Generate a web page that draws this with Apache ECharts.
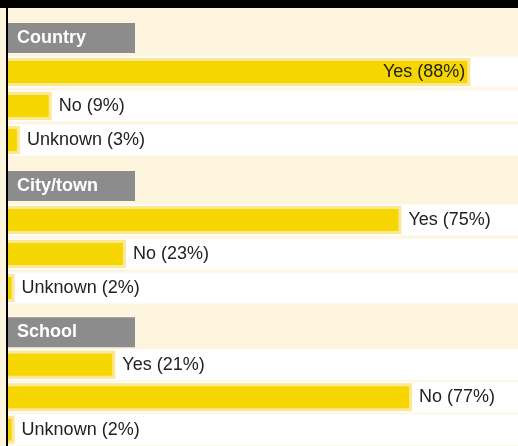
<!DOCTYPE html>
<html>
<head>
<meta charset="utf-8">
<script src="https://cdn.jsdelivr.net/npm/echarts@6/dist/echarts.min.js"></script>
<style>html,body{margin:0;padding:0;background:#fef5de;}#chart{width:518px;height:446px;}</style>
</head>
<body>
<div id="chart"></div>
<script>
const sections = ['Country', 'City/town', 'School'];
const answers = ['Yes', 'No', 'Unknown'];
const countryValues = [88, 9, 3];
const cityValues = [75, 23, 2];
const schoolValues = [21, 77, 2];
const sectionValues = [countryValues, cityValues, schoolValues];

const gridTops = [21, 169, 316];
const chart = echarts.init(document.getElementById('chart'));
const font = "'Liberation Sans', Arial, Helvetica, sans-serif";

const option = {
  backgroundColor: '#fef5de',
  animation: false,
  grid: sections.map((s, i) => ({ left: 4, right: 0, top: gridTops[i], height: 136 })),
  xAxis: sections.map((s, i) => ({ type: 'value', gridIndex: i, min: 0, max: 97, show: false })),
  yAxis: sections.map((s, i) => ({
    type: 'category', gridIndex: i, inverse: true, z: 5,
    data: [s].concat(answers),
    axisLine: { show: false }, axisTick: { show: false }, splitLine: { show: false },
    axisLabel: {
      inside: true, margin: 4, interval: 0,
      formatter: (v, idx) => idx === 0 ? '{h|' + v + '}' : '',
      rich: {
        h: {
          color: '#ffffff', fontWeight: 'bold', fontSize: 18, fontFamily: font,
          backgroundColor: '#8c8c8c', width: 118, height: 18, lineHeight: 18,
          padding: [6, 0, 6, 9], align: 'left'
        }
      }
    }
  })),
  series: sections.map((s, i) => ({
    type: 'bar', xAxisIndex: i, yAxisIndex: i, barWidth: 28,
    encode: { x: 0, y: 1 },
    showBackground: true,
    backgroundStyle: { color: '#ffffff', borderColor: '#ffffff', borderWidth: 3 },
    itemStyle: { color: '#f5d600', borderColor: '#fce894', borderWidth: 3 },
    label: {
      show: true, fontSize: 18, fontFamily: font, color: '#222222',
      formatter: p => answers[p.dataIndex] + ' (' + p.value[0] + '%)'
    },
    data: sectionValues[i].map((v, j) => ({
      value: [v, answers[j]],
      label: { position: v > 80 ? 'insideRight' : 'right', distance: v > 80 ? 5 : 7 }
    }))
  })),
  graphic: [
    { type: 'rect', z: 100, shape: { x: 0, y: 0, width: 518, height: 8 }, style: { fill: '#000000' } },
    { type: 'rect', z: 100, shape: { x: 0, y: 8, width: 6, height: 438 }, style: { fill: '#fef5de' } },
    { type: 'rect', z: 100, shape: { x: 6, y: 8, width: 2, height: 438 }, style: { fill: '#000000' } }
  ]
};
chart.setOption(option);
</script>
</body>
</html>
